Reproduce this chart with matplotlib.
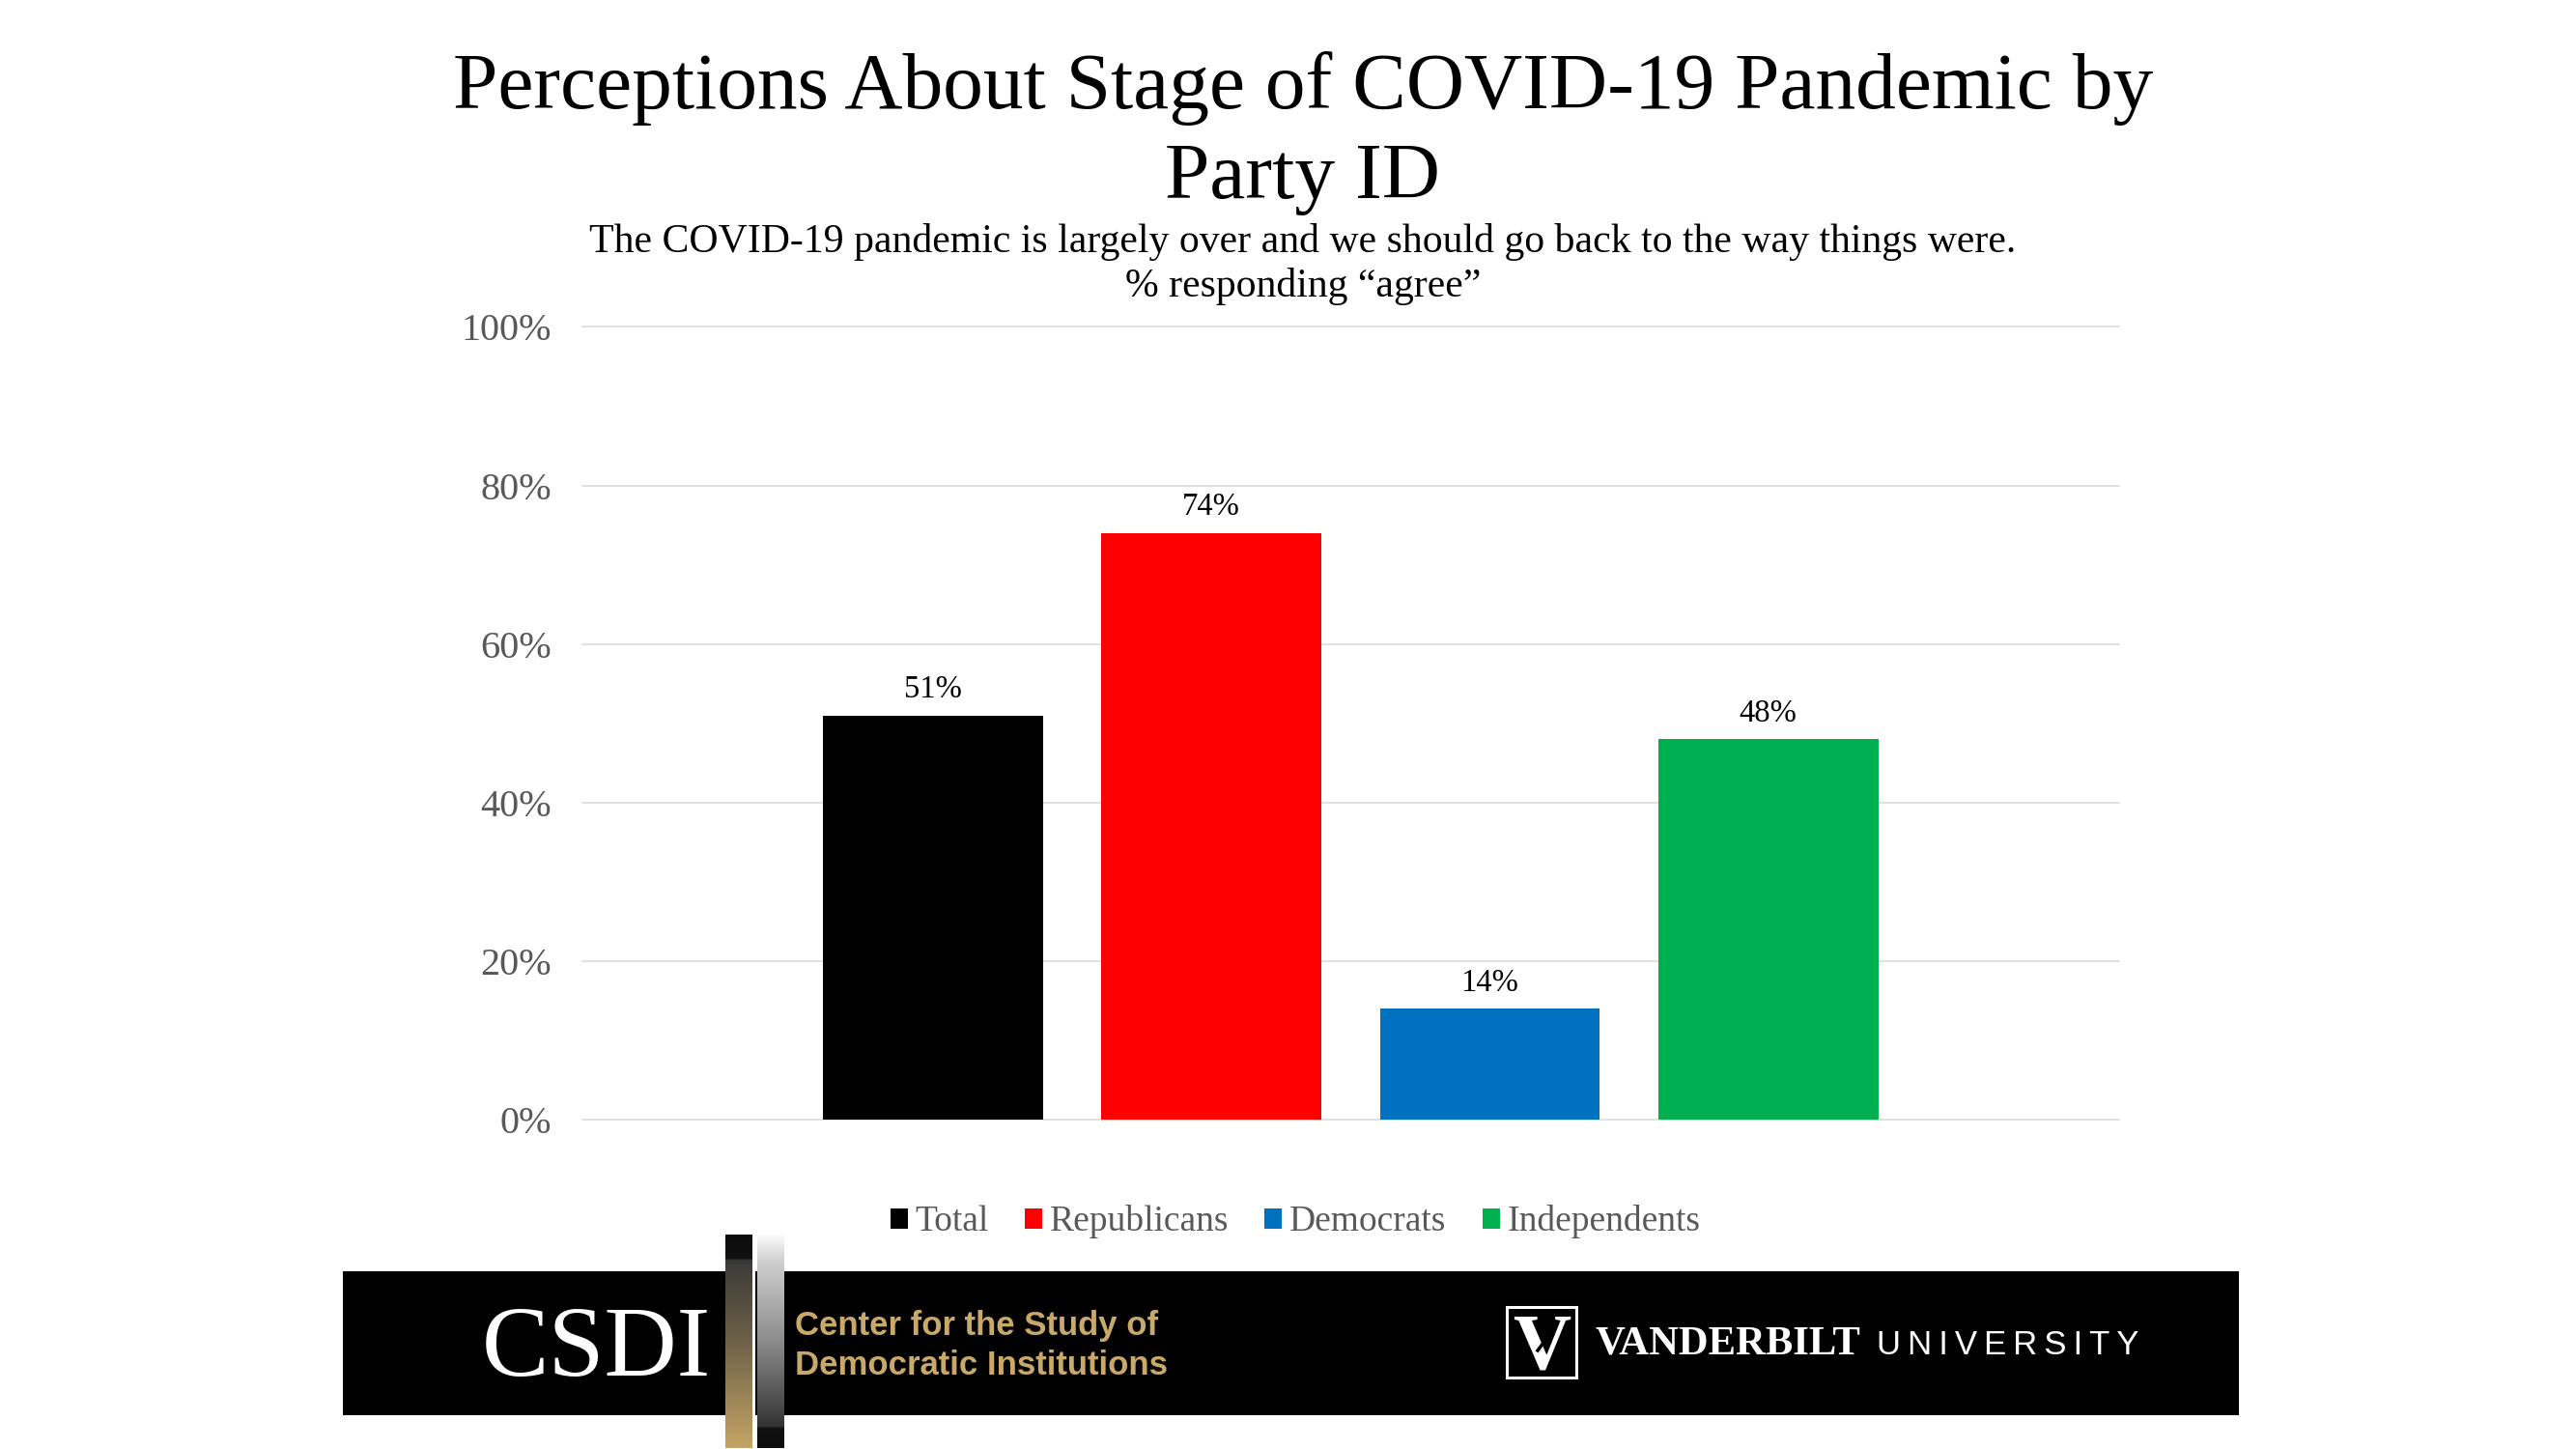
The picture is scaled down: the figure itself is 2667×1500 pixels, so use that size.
import matplotlib
matplotlib.use('Agg')
import matplotlib.pyplot as plt
import numpy as np
from matplotlib.colors import LinearSegmentedColormap
from matplotlib.patches import Rectangle

parties = ['Total', 'Republicans', 'Democrats', 'Independents']
agree_pct = [51, 74, 14, 48]
bar_colors = ['#000000', '#FF0000', '#0070C0', '#00B050']
y_ticks = [0, 20, 40, 60, 80, 100]

title_lines = ['Perceptions About Stage of COVID-19 Pandemic by', 'Party ID']
subtitle_lines = ['The COVID-19 pandemic is largely over and we should go back to the way things were.',
                  '% responding \u201cagree\u201d']

plt.rcParams['font.family'] = ['Liberation Serif', 'DejaVu Serif']

W, H = 2667, 1500
fig = plt.figure(figsize=(W / 100, H / 100), dpi=100, facecolor='white')

# chart area
ax = fig.add_axes([603 / W, 1 - 1159.3 / H, (2194 - 603) / W, (1159.3 - 338.5) / H])
x = np.arange(len(parties))
bars = ax.bar(x, agree_pct, width=0.79, color=bar_colors, zorder=3, label=parties)
ax.set_xlim(-1.259, 4.26)
ax.set_ylim(0, 100)
ax.set_xticks([])
ax.set_yticks(y_ticks)
ax.set_yticklabels([f'{t}%' for t in y_ticks], fontsize=29, color='#595959')
ax.tick_params(axis='y', length=0, pad=23)
ax.grid(axis='y', color='#D9D9D9', lw=1.1, zorder=0)
ax.set_axisbelow(True)
for s in ax.spines.values():
    s.set_visible(False)
for g in ax.get_ygridlines():
    g.set_clip_on(False)
ax.bar_label(bars, labels=[f'{v}%' for v in agree_pct], fontsize=23.5, color='black', padding=8.5)

# legend below the plot
leg = ax.legend(handles=list(bars), labels=parties, ncols=4, frameon=False, fontsize=27,
                loc='center', bbox_to_anchor=((1341 - 603) / (2194 - 603), -(1265 - 1159.3) / (1159.3 - 338.5)),
                handlelength=0.48, handleheight=0.48, handletextpad=0.2, columnspacing=1.0, labelcolor='#595959')

# overlay in pixel coordinates for the headings and the footer
ov = fig.add_axes([0, 0, 1, 1], zorder=5)
ov.axis('off')
ov.patch.set_alpha(0)

ov.text(1349, 112, title_lines[0], fontsize=60, ha='center', va='baseline', color='black')
ov.text(1349, 205, title_lines[1], fontsize=60, ha='center', va='baseline', color='black')
ov.text(1349, 261.5, subtitle_lines[0], fontsize=30.1, ha='center', va='baseline', color='black')
ov.text(1349, 307.5, subtitle_lines[1], fontsize=30.1, ha='center', va='baseline', color='black')

# footer band
ov.add_patch(Rectangle((355, 1316), 2318 - 355, 1465 - 1316, color='black', lw=0))

gold_bar = LinearSegmentedColormap.from_list('gold', [(0, '#0D0D0D'), (0.11, '#111111'), (0.12, '#3A3A38'),
                                                      (0.5, '#6E6148'), (1, '#C4A566')])
gray_bar = LinearSegmentedColormap.from_list('gray', [(0, '#FBFBFB'), (0.12, '#D0D0D0'), (0.5, '#8C8C8C'),
                                                      (0.9, '#333333'), (0.91, '#111111'), (1, '#0D0D0D')])
grad = np.linspace(0, 1, 256).reshape(-1, 1)
ov.imshow(grad, cmap=gold_bar, extent=(751, 779, 1499, 1278), aspect='auto', zorder=3)
ov.imshow(grad, cmap=gray_bar, extent=(784, 812, 1499, 1278), aspect='auto', zorder=3)
ov.add_patch(Rectangle((779, 1316), 2.5, 149, color='white', lw=0, zorder=3))

ov.text(499, 1424, 'CSDI', fontsize=75, color='white', va='baseline', ha='left')
gold_text = '#C9A96A'
ov.text(823, 1382, 'Center for the Study of', fontsize=25, color=gold_text, family='Liberation Sans', weight='bold', va='baseline')
ov.text(823, 1423, 'Democratic Institutions', fontsize=25, color=gold_text, family='Liberation Sans', weight='bold', va='baseline')

# Vanderbilt mark
ov.add_patch(Rectangle((1559.5, 1352.5), 72, 73, fill=False, ec='white', lw=2.2))
ov.text(1596, 1416, 'V', fontsize=60, color='white', weight='bold', ha='center', va='baseline')
ov.plot([1603, 1597, 1603, 1598, 1592], [1364, 1372, 1380, 1390, 1398], color='black', lw=2.5, zorder=4)
ov.text(1652, 1402, 'VANDERBILT', fontsize=30.7, color='white', weight='bold', va='baseline')
ov.text(1943, 1402, '\u2009'.join('UNIVERSITY'), fontsize=25, color='white', family='Liberation Sans', va='baseline')
ov.set_xlim(0, W)
ov.set_ylim(H, 0)

fig.savefig('out.png', dpi=100, facecolor='white')
